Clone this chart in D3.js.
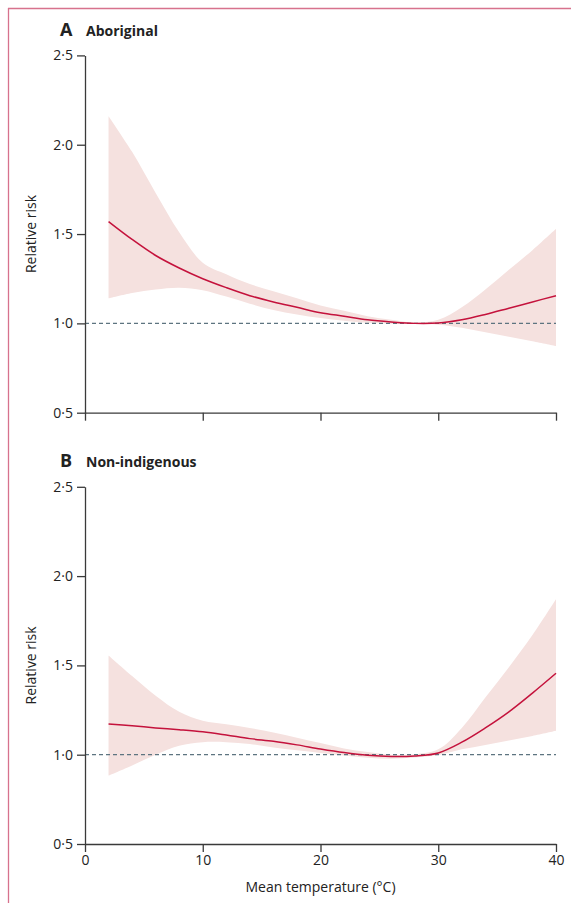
<!DOCTYPE html>
<html><head><meta charset="utf-8">
<script src="https://cdn.jsdelivr.net/npm/d3@7"></script>
<style>
html,body{margin:0;padding:0;background:#fff;}
svg{display:block;font-family:"Open Sans",sans-serif;}
</style></head>
<body>
<svg id="c" width="571" height="903"></svg>
<script>
const temps = [2,4,6,8,10,12,14,16,18,20,22,24,26,28,30,32,34,36,38,40];
const aborigRR    = [1.57,1.47,1.38,1.31,1.25,1.20,1.155,1.12,1.09,1.06,1.04,1.02,1.008,1.0,1.002,1.02,1.05,1.085,1.12,1.155];
const aborigUpper = [2.16,1.96,1.73,1.51,1.34,1.275,1.22,1.18,1.14,1.10,1.07,1.04,1.02,1.005,1.02,1.09,1.19,1.30,1.41,1.53];
const aborigLower = [1.14,1.17,1.19,1.20,1.186,1.15,1.11,1.075,1.05,1.03,1.015,1.003,0.998,0.997,0.993,0.975,0.95,0.925,0.9,0.873];
const nonIndRR    = [1.172,1.162,1.15,1.14,1.128,1.11,1.09,1.075,1.055,1.032,1.012,0.997,0.99,0.993,1.01,1.07,1.15,1.24,1.345,1.456];
const nonIndUpper = [1.555,1.44,1.33,1.24,1.19,1.17,1.15,1.125,1.095,1.065,1.035,1.015,1.0,1.002,1.03,1.15,1.32,1.49,1.67,1.87];
const nonIndLower = [0.883,0.94,1.0,1.05,1.07,1.07,1.06,1.04,1.025,1.01,0.995,0.983,0.978,0.985,0.998,1.03,1.055,1.08,1.105,1.134];
const xTicks = [0,10,20,30,40];
const yTicks = [0.5,1.0,1.5,2.0,2.5];
const panels = [
  {letter:"A", name:"Aboriginal", rr:aborigRR, up:aborigUpper, lo:aborigLower},
  {letter:"B", name:"Non-indigenous", rr:nonIndRR, up:nonIndUpper, lo:nonIndLower}
];

const svg = d3.select("#c");
svg.append("line").attr("x1",8.5).attr("x2",8.5).attr("y1",8).attr("y2",903).attr("stroke","#d7728d").attr("stroke-width",1.3);
svg.append("line").attr("x1",8).attr("x2",571).attr("y1",8.5).attr("y2",8.5).attr("stroke","#d7728d").attr("stroke-width",1.3);

const x = d3.scaleLinear().domain([0,40]).range([85,556]);
const layouts = [{top:55.4,bottom:412.7,titleY:36,labels:false},{top:486.8,bottom:844,titleY:467,labels:true}];
const fmt = d => d.toFixed(1).replace(".", "\u00B7");

panels.forEach((p,i) => {
  const L = layouts[i];
  const y = d3.scaleLinear().domain([0.5,2.5]).range([L.bottom,L.top]);
  const g = svg.append("g");
  const data = temps.map((t,k)=>({t, rr:p.rr[k], up:p.up[k], lo:p.lo[k]}));
  const curve = d3.curveCatmullRom.alpha(0.5);
  g.append("path").datum(data)
    .attr("d", d3.area().x(d=>x(d.t)).y0(d=>y(d.lo)).y1(d=>y(d.up)).curve(curve))
    .attr("fill","#f5e1df");
  g.append("line").attr("x1",x(0)).attr("x2",x(40)).attr("y1",y(1)).attr("y2",y(1))
    .attr("stroke","#5d7480").attr("stroke-width",1.2).attr("stroke-dasharray","4,3");
  g.append("path").datum(data)
    .attr("d", d3.line().x(d=>x(d.t)).y(d=>y(d.rr)).curve(curve))
    .attr("fill","none").attr("stroke","#c4123c").attr("stroke-width",1.5);

  const ya = g.append("g").attr("transform",`translate(${x(0)},0)`)
    .call(d3.axisLeft(y).tickValues(yTicks).tickFormat(fmt).tickSize(8).tickSizeOuter(0).tickPadding(4));
  const xa = g.append("g").attr("transform",`translate(0,${L.bottom})`)
    .call(d3.axisBottom(x).tickValues(xTicks).tickFormat(L.labels ? d3.format("d") : "").tickSize(8).tickSizeOuter(0).tickPadding(3));
  [ya,xa].forEach(a=>{
    a.selectAll("path,line").attr("stroke","#3a3a3a").attr("stroke-width",1.3);
    a.selectAll("text").attr("fill","#222").style("font-size","14px").style("font-family","'Open Sans',sans-serif");
  });

  g.append("text").attr("x",60).attr("y",L.titleY).text(p.letter)
    .style("font-size","18px").style("font-weight","700").attr("fill","#222");
  g.append("text").attr("x",86).attr("y",L.titleY).text(p.name)
    .style("font-size","14px").style("font-weight","700").attr("fill","#222");
  g.append("text").attr("transform",`translate(36,${(L.top+L.bottom)/2}) rotate(-90)`)
    .attr("text-anchor","middle").text("Relative risk").style("font-size","14px").attr("fill","#222");
  if (L.labels) {
    g.append("text").attr("x",x(20)).attr("y",892).attr("text-anchor","middle")
      .text("Mean temperature (\u00B0C)").style("font-size","14px").attr("fill","#222");
  }
});
</script>
</body></html>
